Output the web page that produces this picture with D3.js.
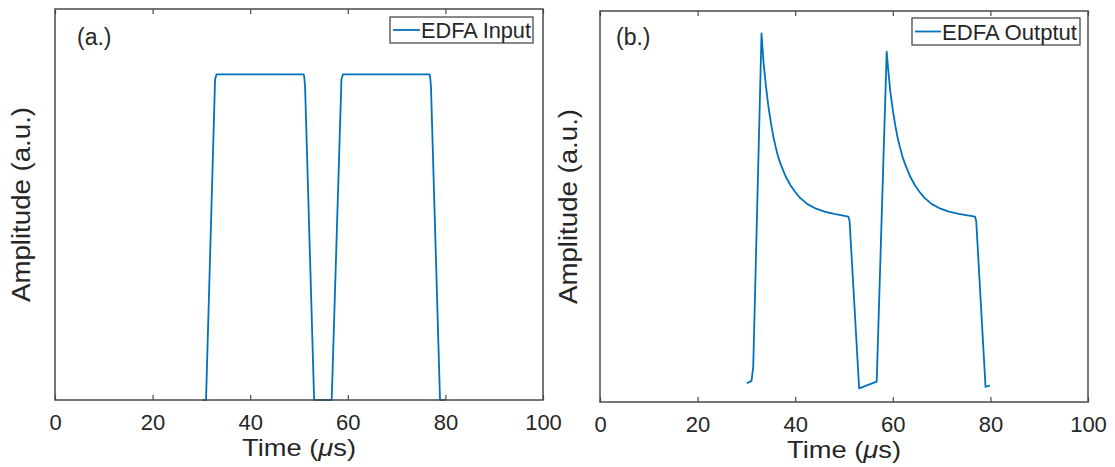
<!DOCTYPE html>
<html>
<head>
<meta charset="utf-8">
<script src="https://cdn.jsdelivr.net/npm/d3@7"></script>
<style>
  html, body { margin: 0; padding: 0; background: #fff; }
  svg { display: block; }
  text { font-family: "Liberation Sans", Arial, Helvetica, sans-serif; fill: #262626; }
</style>
</head>
<body>
<svg id="chart" width="1115" height="467"></svg>
<script>
// ---- data ----
const xTickValues = [0, 20, 40, 60, 80, 100];
const xTickLabels = ["0", "20", "40", "60", "80", "100"];

const inputTime = [30.3, 30.95, 32.8, 33.1, 50.9, 51.05, 51.25, 53.1, 56.7, 58.7, 59.0, 76.7, 76.85, 77.05, 78.9, 80.0];
const inputAmp  = [0, 0, 0.82, 0.833, 0.833, 0.83, 0.80, 0, 0, 0.82, 0.833, 0.833, 0.83, 0.80, 0, 0];

const outputTime = [30.05, 31.05, 31.4,
  33.1, 33.5, 34.0, 34.5, 35.0, 35.5, 36.0, 36.5, 37.0, 38.0, 39.0, 40.0, 41.0, 42.5, 44.0, 46.0, 48.0, 50.9,
  51.15, 53.1, 56.7,
  58.75, 59.1, 59.5, 60.0, 60.5, 61.0, 61.5, 62.0, 62.5, 63.5, 64.5, 65.5, 66.5, 68.0, 69.5, 71.5, 73.5, 76.85,
  77.1, 79.0, 79.9];
const outputAmp  = [0.048, 0.054, 0.09,
  0.943, 0.870, 0.808, 0.757, 0.716, 0.680, 0.652, 0.627, 0.609, 0.578, 0.555, 0.537, 0.522, 0.506, 0.496, 0.487, 0.481, 0.474,
  0.462, 0.035, 0.052,
  0.896, 0.844, 0.793, 0.747, 0.708, 0.675, 0.650, 0.627, 0.609, 0.578, 0.555, 0.537, 0.522, 0.506, 0.496, 0.487, 0.481, 0.474,
  0.462, 0.039, 0.042];

const panelLabels = ["(a.)", "(b.)"];
const legendLabels = ["EDFA Input", "EDFA Outptut"];

// ---- layout ----
const panels = [
  { left: 55,  right: 543,  top: 9,  bottom: 400, time: inputTime,  amp: inputAmp,
    label: panelLabels[0], legend: legendLabels[0],
    leg: { x: 390, y: 17, w: 143, h: 26, lineX1: 393, lineX2: 420, textX: 421, textW: 110 }, ylabX: 30, labX: 77 },
  { left: 600, right: 1088, top: 11, bottom: 402, time: outputTime, amp: outputAmp,
    label: panelLabels[1], legend: legendLabels[1],
    leg: { x: 912, y: 18, w: 168, h: 27, lineX1: 915, lineX2: 941, textX: 942, textW: 135 }, ylabX: 577, labX: 616 }
];

const axisColor = "#4a4a4a";
const lineColor = "#0072BD";
const svg = d3.select("#chart");
svg.append("rect").attr("width", 1115).attr("height", 467).attr("fill", "#fff");

panels.forEach(p => {
  const x = d3.scaleLinear().domain([0, 100]).range([p.left, p.right]);
  const y = d3.scaleLinear().domain([0, 1]).range([p.bottom, p.top]);
  const g = svg.append("g");

  // data line
  const pts = p.time.map((t, i) => [t, p.amp[i]]);
  g.append("path")
    .datum(pts)
    .attr("d", d3.line().x(d => x(d[0])).y(d => y(d[1])))
    .attr("fill", "none")
    .attr("stroke", lineColor)
    .attr("stroke-width", 1.8)
    .attr("stroke-linejoin", "round");

  // bottom axis (ticks inward)
  const bottomAxis = d3.axisBottom(x).tickValues(xTickValues)
    .tickFormat((d, i) => xTickLabels[i]).tickSizeInner(-5).tickSizeOuter(0).tickPadding(0);
  const ba = g.append("g").attr("transform", `translate(0,${p.bottom})`).call(bottomAxis);
  ba.select(".domain").remove();
  ba.selectAll(".tick line").attr("stroke", axisColor).attr("stroke-width", 1.2);
  ba.selectAll(".tick text")
    .attr("y", 30).attr("dy", null)
    .attr("font-size", 22)
    .style("font-size", "22px")
    .style("font-family", '"Liberation Sans", Arial, sans-serif')
    .attr("fill", "#262626");

  // top axis ticks (no labels)
  const topAxis = d3.axisTop(x).tickValues(xTickValues).tickFormat("").tickSizeInner(-5).tickSizeOuter(0);
  const ta = g.append("g").attr("transform", `translate(0,${p.top})`).call(topAxis);
  ta.select(".domain").remove();
  ta.selectAll(".tick line").attr("stroke", axisColor).attr("stroke-width", 1.2);

  // box
  g.append("rect")
    .attr("x", p.left).attr("y", p.top)
    .attr("width", p.right - p.left).attr("height", p.bottom - p.top)
    .attr("fill", "none").attr("stroke", axisColor).attr("stroke-width", 1.5);

  // x label
  const xl = g.append("text")
    .attr("x", (p.left + p.right) / 2).attr("y", p.bottom + 56)
    .attr("text-anchor", "middle")
    .attr("textLength", 114).attr("lengthAdjust", "spacingAndGlyphs")
    .style("font-size", "24px");
  xl.append("tspan").text("Time (");
  xl.append("tspan").style("font-style", "italic").text("\u03bc");
  xl.append("tspan").text("s)");

  // y label
  g.append("text")
    .attr("transform", `translate(${p.ylabX},${(p.top + p.bottom) / 2}) rotate(-90)`)
    .attr("text-anchor", "middle")
    .attr("textLength", 195).attr("lengthAdjust", "spacingAndGlyphs")
    .style("font-size", "25px")
    .text("Amplitude (a.u.)");

  // panel label
  g.append("text")
    .attr("x", p.labX).attr("y", 45)
    .style("font-size", "23px")
    .text(p.label);

  // legend
  const L = p.leg;
  g.append("rect")
    .attr("x", L.x).attr("y", L.y).attr("width", L.w).attr("height", L.h)
    .attr("fill", "#fff").attr("stroke", axisColor).attr("stroke-width", 1.3);
  g.append("line")
    .attr("x1", L.lineX1).attr("x2", L.lineX2)
    .attr("y1", L.y + L.h / 2).attr("y2", L.y + L.h / 2)
    .attr("stroke", lineColor).attr("stroke-width", 1.8);
  g.append("text")
    .attr("x", L.textX).attr("y", L.y + L.h / 2 + 8)
    .attr("textLength", L.textW).attr("lengthAdjust", "spacingAndGlyphs")
    .style("font-size", "22px")
    .text(p.legend);
});
</script>
</body>
</html>
